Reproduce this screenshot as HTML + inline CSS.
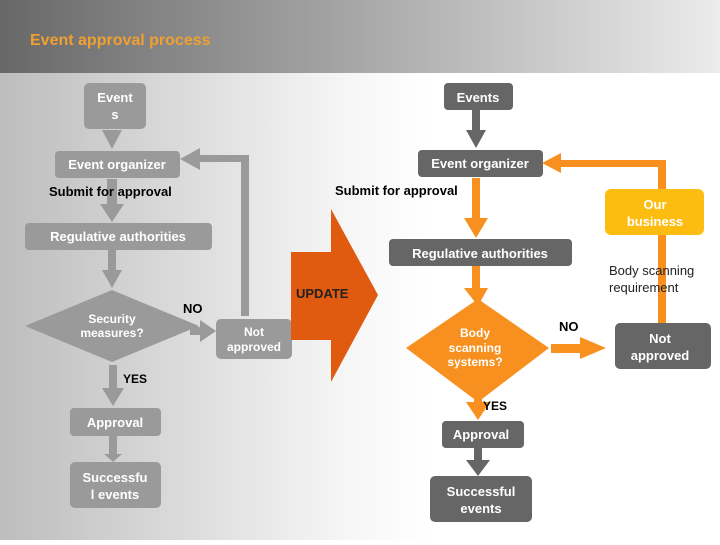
<!DOCTYPE html>
<html><head><meta charset="utf-8"><style>
body{margin:0;width:720px;height:540px;overflow:hidden;font-family:"Liberation Sans",sans-serif}
</style></head><body>
<svg width="720" height="540" xmlns="http://www.w3.org/2000/svg" font-family="Liberation Sans, sans-serif">
<defs>
<linearGradient id="hd" x1="0" x2="1"><stop offset="0" stop-color="#686868"/><stop offset="0.5" stop-color="#a8a8a8"/><stop offset="1" stop-color="#ececec"/></linearGradient>
<linearGradient id="bd" x1="0" x2="1"><stop offset="0" stop-color="#bdbdbd"/><stop offset="0.48" stop-color="#f6f6f6"/><stop offset="0.6" stop-color="#ffffff"/></linearGradient>
</defs>
<rect width="720" height="540" fill="url(#bd)"/>
<rect width="720" height="73" fill="url(#hd)"/>
<text x="30" y="45" font-size="16" font-weight="bold" fill="#f0a030">Event approval process</text>

<g fill="#9a9a9a">
<rect x="84" y="83" width="62" height="46" rx="5"/>
<polygon points="102,130 122,130 112,149"/>
<rect x="55" y="151" width="125" height="27" rx="4"/>
<rect x="107" y="179" width="10" height="26"/>
<polygon points="100,204 124,204 112,222"/>
<rect x="25" y="223" width="187" height="27" rx="4"/>
<rect x="108" y="250" width="8" height="22"/>
<polygon points="102,270 122,270 112,288"/>
<polygon points="112,290 199,326 112,362 25,326"/>
<rect x="190" y="327" width="14" height="8"/>
<polygon points="200,320 216,331 200,342"/>
<rect x="216" y="319" width="76" height="40" rx="5"/>
<rect x="241" y="156" width="8" height="160"/>
<rect x="198" y="155" width="51" height="7"/>
<polygon points="200,148 200,170 180,159"/>
<rect x="109" y="365" width="8" height="26"/>
<polygon points="102,388 124,388 113,406"/>
<rect x="70" y="408" width="91" height="28" rx="4"/>
<rect x="109" y="436" width="8" height="20"/>
<polygon points="104,454 122,454 113,462"/>
<rect x="70" y="462" width="91" height="46" rx="5"/>
</g>
<g fill="#fff" font-size="13" font-weight="bold" text-anchor="middle">
<text x="115" y="102">Event</text><text x="115" y="119">s</text>
<text x="117" y="169">Event organizer</text>
<text x="118" y="241">Regulative authorities</text>
<text x="112" y="323" font-size="12">Security</text><text x="112" y="337" font-size="12">measures?</text>
<text x="254" y="336" font-size="12">Not</text><text x="254" y="351" font-size="12">approved</text>
<text x="115" y="427">Approval</text>
<text x="115" y="482">Successfu</text><text x="115" y="499">l events</text>
</g>
<g font-size="13" font-weight="bold" fill="#000">
<text x="49" y="196">Submit for approval</text>
<text x="183" y="313">NO</text>
<text x="123" y="383" font-size="12">YES</text>
</g>

<polygon points="291,252 331,252 331,209 378,295 331,382 331,340 291,340" fill="#e05a10"/>
<text x="296" y="298" font-size="13" font-weight="bold" fill="#222">UPDATE</text>

<g fill="#666">
<rect x="444" y="83" width="69" height="27" rx="4"/>
<rect x="472" y="110" width="8" height="22"/>
<polygon points="466,130 486,130 476,148"/>
<rect x="418" y="150" width="125" height="27" rx="4"/>
<rect x="389" y="239" width="183" height="27" rx="4"/>
<rect x="474" y="448" width="8" height="14"/>
<polygon points="466,460 490,460 478,476"/>
<rect x="442" y="421" width="82" height="27" rx="4"/>
<rect x="430" y="476" width="102" height="46" rx="5"/>
<rect x="615" y="323" width="96" height="46" rx="5"/>
</g>
<g fill="#f7901e">
<rect x="472" y="178" width="8" height="42"/>
<polygon points="464,218 488,218 476,238"/>
<rect x="472" y="266" width="8" height="24"/>
<polygon points="464,288 488,288 478,306"/>
<polygon points="478,299 549,348 478,402 406,348"/>
<rect x="551" y="344" width="30" height="9"/>
<polygon points="580,337 580,359 606,348"/>
<rect x="474" y="390" width="8" height="14"/>
<polygon points="466,402 490,402 478,420"/>
<rect x="658" y="160" width="8" height="163"/>
<rect x="558" y="160" width="108" height="7"/>
<polygon points="561,153 561,173 542,163"/>
</g>
<rect x="605" y="189" width="99" height="46" rx="6" fill="#fdbd10"/>
<g fill="#fff" font-size="13" font-weight="bold" text-anchor="middle">
<text x="478" y="102">Events</text>
<text x="480" y="168">Event organizer</text>
<text x="480" y="258">Regulative authorities</text>
<text x="475" y="337" font-size="12">Body</text><text x="475" y="352" font-size="12">scanning</text><text x="475" y="366" font-size="12">systems?</text>
<text x="481" y="439">Approval</text>
<text x="481" y="496">Successful</text><text x="481" y="513">events</text>
<text x="660" y="343">Not</text><text x="660" y="360">approved</text>
<text x="655" y="209">Our</text><text x="655" y="226">business</text>
</g>
<g font-size="13" font-weight="bold" fill="#000">
<text x="335" y="195">Submit for approval</text>
<text x="559" y="331">NO</text>
<text x="483" y="410" font-size="12">YES</text>
</g>
<g font-size="13" fill="#222">
<text x="609" y="275">Body scanning</text>
<text x="609" y="292">requirement</text>
</g>
</svg>
</body></html>
